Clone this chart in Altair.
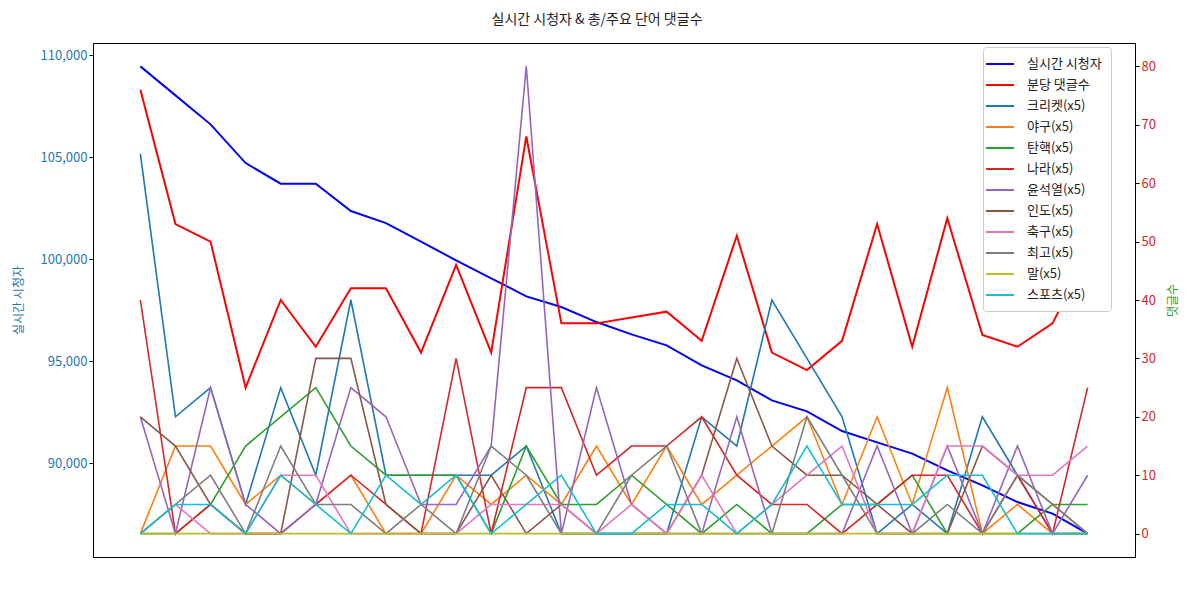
import altair as alt
import pandas as pd

FONT = "Noto Sans CJK KR"

x_idx = list(range(28))

viewers = [109461, 108039, 106618, 104721, 103711, 103711, 102368, 101779, 100868, 99951,
           99069, 98186, 97662, 96926, 96324, 95784, 94804, 94069, 93088, 92549,
           91583, 91029, 90475, 89657, 88922, 88103, 87534, 86554]

comments = [76, 53, 50, 25, 40, 32, 42, 42, 31, 46, 31, 68, 36, 36, 37, 38, 33, 51, 31, 28,
            33, 53, 32, 54, 34, 32, 36, 48]

cricket = [65, 20, 25, 5, 25, 10, 40, 10, 10, 10, 10, 15, 0, 0, 0, 0, 20, 15, 40, 30, 20, 0, 5, 0, 20, 10, 0, 0]
baseball = [0, 15, 15, 5, 10, 5, 10, 0, 0, 10, 5, 10, 5, 15, 5, 15, 5, 10, 15, 20, 5, 20, 5, 25, 0, 5, 0, 0]
impeach = [0, 0, 5, 15, 20, 25, 15, 10, 10, 10, 0, 15, 5, 5, 10, 5, 0, 5, 0, 0, 5, 5, 10, 0, 0, 0, 5, 5]
nara = [40, 0, 5, 0, 0, 5, 10, 5, 0, 30, 0, 25, 25, 10, 15, 15, 20, 10, 5, 5, 0, 5, 10, 10, 0, 10, 0, 25]
yoon = [20, 0, 25, 5, 0, 5, 25, 20, 5, 5, 15, 80, 0, 25, 5, 0, 0, 20, 0, 0, 0, 15, 0, 15, 0, 15, 0, 10]
india = [20, 15, 5, 0, 0, 30, 30, 5, 0, 0, 10, 0, 5, 0, 0, 0, 10, 30, 15, 10, 10, 5, 0, 0, 15, 10, 5, 0]
soccer = [0, 5, 0, 0, 10, 10, 0, 0, 0, 0, 5, 5, 5, 0, 5, 0, 10, 0, 5, 10, 15, 0, 0, 15, 15, 10, 10, 15]
best = [0, 5, 10, 0, 15, 5, 5, 0, 5, 0, 15, 10, 0, 0, 10, 15, 0, 0, 0, 20, 10, 0, 0, 5, 0, 10, 5, 0]
mal = [0] * 28
sports = [0, 5, 5, 0, 10, 5, 0, 10, 5, 10, 0, 5, 10, 0, 0, 5, 5, 0, 5, 15, 5, 5, 5, 10, 10, 0, 0, 0]

series_names = ["실시간 시청자", "분당 댓글수", "크리켓(x5)", "야구(x5)", "탄핵(x5)", "나라(x5)",
                "윤석열(x5)", "인도(x5)", "축구(x5)", "최고(x5)", "말(x5)", "스포츠(x5)"]
series_colors = ["#0000ff", "#ff0000", "#1f77b4", "#ff7f0e", "#2ca02c", "#d62728",
                 "#9467bd", "#8c564b", "#e377c2", "#7f7f7f", "#bcbd22", "#17becf"]

right_series = [comments, cricket, baseball, impeach, nara, yoon, india, soccer, best, mal, sports]

df_left = pd.DataFrame({"x": x_idx, "v": viewers, "series": series_names[0]})
rows = []
for name, vals in zip(series_names[1:], right_series):
    for i, v in zip(x_idx, vals):
        rows.append({"x": i, "v": v, "series": name, "w": 2.0 if name == "분당 댓글수" else 1.6})
df_right = pd.DataFrame(rows)

color_scale = alt.Scale(domain=series_names, range=series_colors)
x_scale = alt.Scale(domain=[-1.35, 28.35], nice=False, zero=False)

legend = alt.Legend(
    title=None, orient="none", legendX=890, legendY=4,
    symbolType="M-2,0H2", symbolSize=196, symbolStrokeWidth=2,
    labelFont=FONT, labelFontSize=13, labelColor="#222222",
    fillColor="white", strokeColor="#cccccc", cornerRadius=3,
    padding=9, rowPadding=6, labelOffset=19,
)

left = alt.Chart(df_left).mark_line(strokeWidth=2).encode(
    x=alt.X("x:Q", scale=x_scale,
            axis=alt.Axis(labels=False, ticks=False, grid=False, title="Program [스포츠공장]",
                          titleFont=FONT, titleFontSize=12, titleFontWeight="normal",
                          titleColor="#222222", titlePadding=10, domainColor="black")),
    y=alt.Y("v:Q", scale=alt.Scale(domain=[85409, 110606], nice=False, zero=False),
            axis=alt.Axis(orient="left", values=[90000, 95000, 100000, 105000, 110000],
                          format=",.0f", grid=False, labelColor="#1f77b4", labelFont=FONT,
                          labelFontSize=13, tickColor="black", domainColor="black",
                          tickSize=4, title="실시간 시청자", titleColor="#1f77b4",
                          titleFont=FONT, titleFontSize=12, titleFontWeight="normal",
                          titlePadding=15)),
    color=alt.Color("series:N", scale=color_scale, legend=legend),
)

right = alt.Chart(df_right).mark_line().encode(
    x=alt.X("x:Q", scale=x_scale, axis=None),
    y=alt.Y("v:Q", scale=alt.Scale(domain=[-4, 84], nice=False, zero=False),
            axis=alt.Axis(orient="right", values=list(range(0, 81, 10)), grid=False,
                          labelColor="#d62728", labelFont=FONT, labelFontSize=13,
                          tickColor="black", domainColor="black", tickSize=4,
                          title="댓글수", titleColor="#2ca02c", titleFont=FONT,
                          titleFontSize=12, titleFontWeight="normal", titleAngle=270,
                          titleBaseline="top", titlePadding=12)),
    color=alt.Color("series:N", scale=color_scale, legend=legend),
    strokeWidth=alt.StrokeWidth("w:Q", scale=None, legend=None),
)

chart = alt.layer(left, right).resolve_scale(y="independent").properties(
    width=1042, height=514,
    autosize=alt.AutoSizeParams(type="none"),
    padding={"left": 93, "top": 43, "right": 54, "bottom": 35},
    title=alt.TitleParams("실시간 시청자 & 총/주요 단어 댓글수", font=FONT, fontSize=14,
                          fontWeight="normal", color="#222222", offset=16, dx=-17,
                          anchor="middle"),
).configure(background="white").configure_view(stroke="black", strokeWidth=1)

chart.save("out.html", embed_options={"renderer": "svg", "actions": False})
